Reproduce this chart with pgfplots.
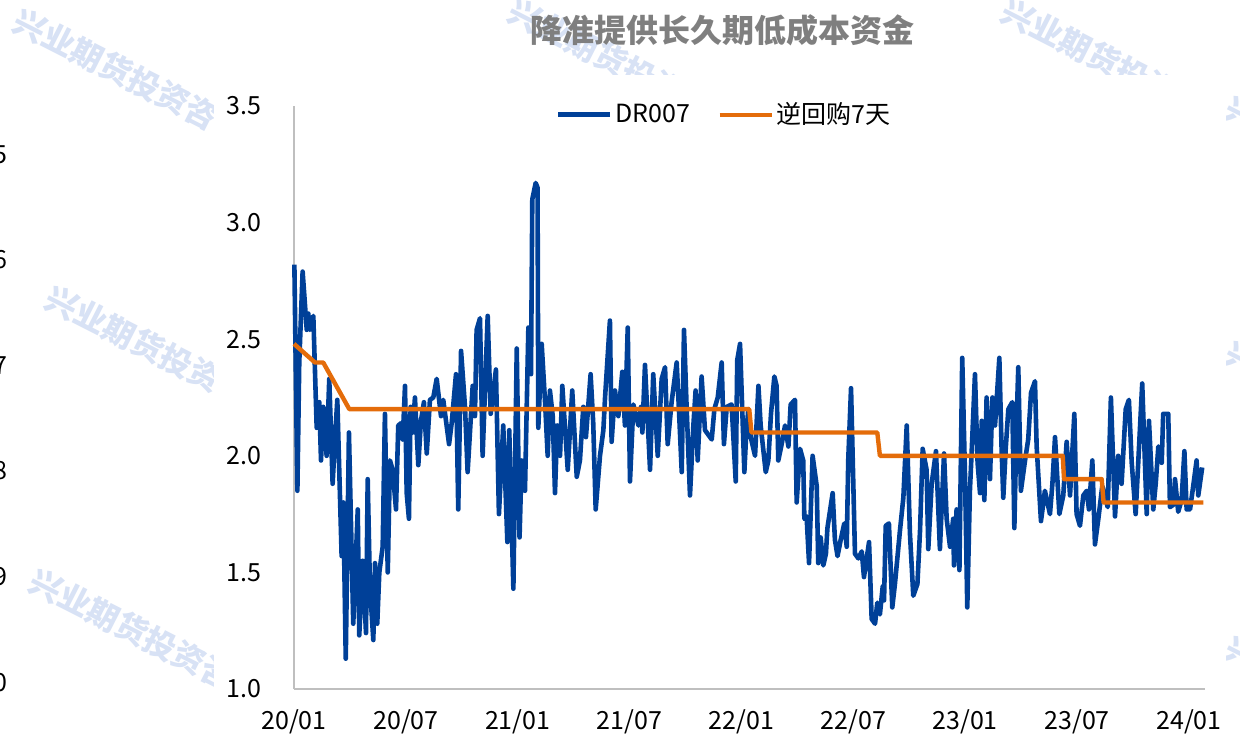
\documentclass[border=0pt]{standalone}
\usepackage{fontspec}
\setmainfont{Noto Sans CJK SC}
\usepackage{pgfplots}
\pgfplotsset{compat=1.18}
\definecolor{drblue}{RGB}{0,64,152}
\definecolor{rrorange}{RGB}{228,108,10}
\definecolor{axgray}{RGB}{191,191,191}
\definecolor{wm}{RGB}{216,226,245}
\definecolor{titlegray}{RGB}{127,127,127}
\tikzset{wmk/.style={rotate=-27,anchor=west,inner sep=0pt,text=wm,font=\fontsize{16}{16}\selectfont\bfseries}}
\begin{document}
\begin{tikzpicture}
\path[use as bounding box] (0,0) rectangle (620pt,-369pt);
\clip (0,0) rectangle (620pt,-369pt);
\begin{scope}[x=0.5pt,y=-0.5pt]
  \begin{scope}\clip (0,0) rectangle (213,738);
    \node[wmk] at (16,18) {兴业期货投资咨};
    \node[wmk] at (48,295) {兴业期货投资咨};
    \node[wmk] at (32,578) {兴业期货投资咨};
  \end{scope}
  \begin{scope}\clip (300,0) rectangle (1240,75);
    \node[wmk] at (511,8) {兴业期货投资};
    \node[wmk] at (1004,8) {兴业期货投资};
  \end{scope}
  \begin{scope}\clip (1226,0) rectangle (1240,738);
    \node[wmk] at (1228,105) {兴业};
    \node[wmk] at (1228,350) {兴业};
    \node[wmk] at (1228,645) {兴业};
  \end{scope}
  \foreach \d/\yy in {5/155,6/260,7/366,8/471,9/577,0/683}
    \node[anchor=east,inner sep=0pt,font=\fontsize{12.5}{14}\selectfont] at (8,\yy) {\d};
  \node[font=\fontsize{16}{18}\selectfont\bfseries,text=titlegray] at (722,30) {降准提供长久期低成本资金};
\end{scope}
\begin{axis}[
  at={(147pt,-344.5pt)}, anchor=south west,
  scale only axis, width=455.5pt, height=291.5pt,
  xmin=0, xmax=48.59, ymin=1, ymax=3.5,
  axis x line=bottom, axis y line=left,
  axis line style={-, draw=axgray, line width=1pt},
  major tick length=0pt, tick style={draw=none},
  ytick={1,1.5,2,2.5,3,3.5},
  yticklabels={1.0,1.5,2.0,2.5,3.0,3.5},
  xtick={0,5.97,11.93,17.90,23.87,29.83,35.80,41.77,47.73},
  xticklabels={20/01,20/07,21/01,21/07,22/01,22/07,23/01,23/07,24/01},
  tick label style={font=\fontsize{12.5}{14}\selectfont, text=black},
  yticklabel style={anchor=east, inner sep=0pt, xshift=-16pt},
  xticklabel style={anchor=center, inner sep=0pt, yshift=-16.5pt},
  clip=false,
  legend columns=2,
  legend style={at={(0.473,0.985)}, anchor=center, draw=none, fill=none,
    font=\fontsize{12.5}{14}\selectfont,
    /tikz/every even column/.append style={column sep=12pt},
    nodes={inner sep=1.5pt}},
  legend image code/.code={\draw[#1] (0pt,0pt) -- (26pt,0pt);},
]
\addplot[drblue, line width=2.3pt, line join=round] coordinates {
(0.02,2.82) (0.18,1.85) (0.28,2.40) (0.46,2.79) (0.68,2.54) (0.76,2.61) (0.85,2.54) (1.03,2.60) (1.21,2.12) (1.35,2.23) (1.44,1.98) (1.56,2.21) (1.74,2.00) (1.88,2.33) (2.06,1.88) (2.19,2.08) (2.31,2.24) (2.54,1.57) (2.63,1.80) (2.76,1.13) (2.93,2.10) (3.16,1.28) (3.40,1.77) (3.48,1.23) (3.66,1.55) (3.84,1.24) (3.93,1.90) (4.05,1.44) (4.23,1.21) (4.32,1.54) (4.44,1.28) (4.55,1.50) (4.73,1.61) (4.85,2.18) (5.00,1.50) (5.12,1.98) (5.26,1.94) (5.44,1.77) (5.56,2.13) (5.71,2.14) (5.80,2.07) (5.92,2.30) (6.01,1.84) (6.13,1.73) (6.22,2.21) (6.33,2.10) (6.45,2.25) (6.63,1.96) (6.77,2.15) (6.93,2.23) (7.08,2.01) (7.25,2.24) (7.43,2.25) (7.61,2.33) (7.84,2.17) (7.96,2.24) (8.27,2.05) (8.41,2.14) (8.64,2.35) (8.76,1.77) (8.91,2.45) (9.12,2.21) (9.26,1.93) (9.53,2.30) (9.65,2.17) (9.74,2.54) (9.92,2.59) (10.06,2.00) (10.33,2.60) (10.49,2.18) (10.77,2.37) (10.93,1.75) (11.16,2.13) (11.38,1.63) (11.48,2.11) (11.70,1.43) (11.88,2.46) (12.03,1.65) (12.14,1.98) (12.32,1.85) (12.50,2.55) (12.64,2.35) (12.71,3.10) (12.89,3.17) (12.99,3.15) (13.03,2.12) (13.21,2.48) (13.39,2.23) (13.53,2.00) (13.65,2.28) (13.80,2.17) (13.92,1.84) (14.04,2.13) (14.19,2.00) (14.31,2.30) (14.60,1.94) (14.84,2.28) (15.08,1.91) (15.25,1.98) (15.43,2.21) (15.57,2.08) (15.82,2.35) (15.96,2.14) (16.09,1.77) (16.32,2.00) (16.50,2.11) (16.59,2.25) (16.85,2.58) (16.94,2.06) (17.12,2.28) (17.30,2.17) (17.51,2.36) (17.65,2.13) (17.80,2.55) (17.92,1.89) (18.10,2.22) (18.37,2.13) (18.51,2.21) (18.58,2.10) (18.72,2.39) (18.99,1.94) (19.16,2.35) (19.40,2.00) (19.61,2.33) (19.79,2.38) (19.93,2.05) (20.14,2.23) (20.41,2.40) (20.53,2.20) (20.68,1.93) (20.80,2.54) (20.94,2.21) (21.12,1.83) (21.30,2.13) (21.42,2.28) (21.53,1.98) (21.74,2.34) (21.92,2.11) (22.28,2.07) (22.42,2.20) (22.60,2.25) (22.81,2.40) (22.93,2.05) (23.08,2.21) (23.34,2.22) (23.56,1.89) (23.64,2.41) (23.79,2.48) (24.02,1.93) (24.11,2.08) (24.23,2.20) (24.36,2.08) (24.59,2.00) (24.77,2.30) (24.89,2.13) (25.16,1.93) (25.30,1.98) (25.44,2.18) (25.62,2.34) (25.74,2.30) (25.83,1.98) (26.01,2.05) (26.19,2.13) (26.37,2.04) (26.49,2.22) (26.72,2.24) (26.81,1.80) (26.99,2.03) (27.16,1.98) (27.22,1.73) (27.34,1.74) (27.47,1.54) (27.66,2.00) (27.88,1.87) (27.96,1.54) (28.09,1.65) (28.23,1.53) (28.37,1.58) (28.45,1.69) (28.73,1.84) (28.85,1.64) (28.99,1.57) (29.16,1.64) (29.35,1.71) (29.48,1.61) (29.56,1.98) (29.71,2.29) (29.92,1.58) (30.10,1.56) (30.28,1.59) (30.40,1.48) (30.67,1.63) (30.81,1.30) (30.99,1.28) (31.11,1.37) (31.25,1.32) (31.40,1.44) (31.47,1.38) (31.56,1.70) (31.73,1.71) (31.91,1.35) (32.05,1.45) (32.32,1.68) (32.50,1.82) (32.68,2.13) (32.85,1.67) (33.03,1.40) (33.25,1.45) (33.39,1.68) (33.53,2.03) (33.74,1.94) (33.83,1.60) (34.01,1.88) (34.24,2.02) (34.45,1.60) (34.67,2.01) (34.81,1.73) (34.99,1.61) (35.16,1.73) (35.20,1.53) (35.34,1.77) (35.49,1.51) (35.64,2.42) (35.79,1.91) (35.91,1.35) (36.05,1.85) (36.14,2.01) (36.32,2.35) (36.46,1.97) (36.59,1.84) (36.68,2.15) (36.82,1.81) (36.94,2.25) (37.12,1.90) (37.25,2.25) (37.39,2.13) (37.62,2.42) (37.74,2.03) (37.83,1.82) (37.96,2.03) (38.10,2.20) (38.31,2.23) (38.42,1.69) (38.54,2.14) (38.63,2.38) (38.77,1.85) (38.99,1.98) (39.16,2.07) (39.31,2.27) (39.52,2.32) (39.61,2.04) (39.84,1.72) (40.05,1.85) (40.32,1.75) (40.45,1.88) (40.59,2.08) (40.82,1.75) (41.03,1.83) (41.21,2.06) (41.39,1.83) (41.62,2.18) (41.74,1.75) (41.92,1.70) (42.10,1.83) (42.28,1.85) (42.40,1.77) (42.58,1.98) (42.72,1.62) (42.90,1.73) (43.11,1.87) (43.40,1.78) (43.57,2.25) (43.79,1.74) (43.96,2.00) (44.14,1.88) (44.36,2.20) (44.53,2.24) (44.68,1.97) (44.89,1.75) (45.24,2.31) (45.48,1.75) (45.60,2.15) (45.83,1.77) (45.96,1.88) (46.10,2.04) (46.28,1.97) (46.36,2.18) (46.63,2.18) (46.72,1.78) (46.90,1.79) (46.99,1.90) (47.16,1.76) (47.34,1.81) (47.49,2.02) (47.61,1.77) (47.79,1.77) (47.96,1.87) (48.14,1.98) (48.23,1.83) (48.44,1.95)
};
\addlegendentry{DR007}
\addplot[rrorange, line width=2.2pt, line join=round] coordinates {
(0,2.48) (1.12,2.40) (1.56,2.40) (2.95,2.20) (24.28,2.20) (24.40,2.10) (31.11,2.10) (31.25,2.00) (41.00,2.00) (41.07,1.90) (43.08,1.90) (43.18,1.80) (48.50,1.80)
};
\addlegendentry{逆回购7天}
\end{axis}
\end{tikzpicture}
\end{document}
